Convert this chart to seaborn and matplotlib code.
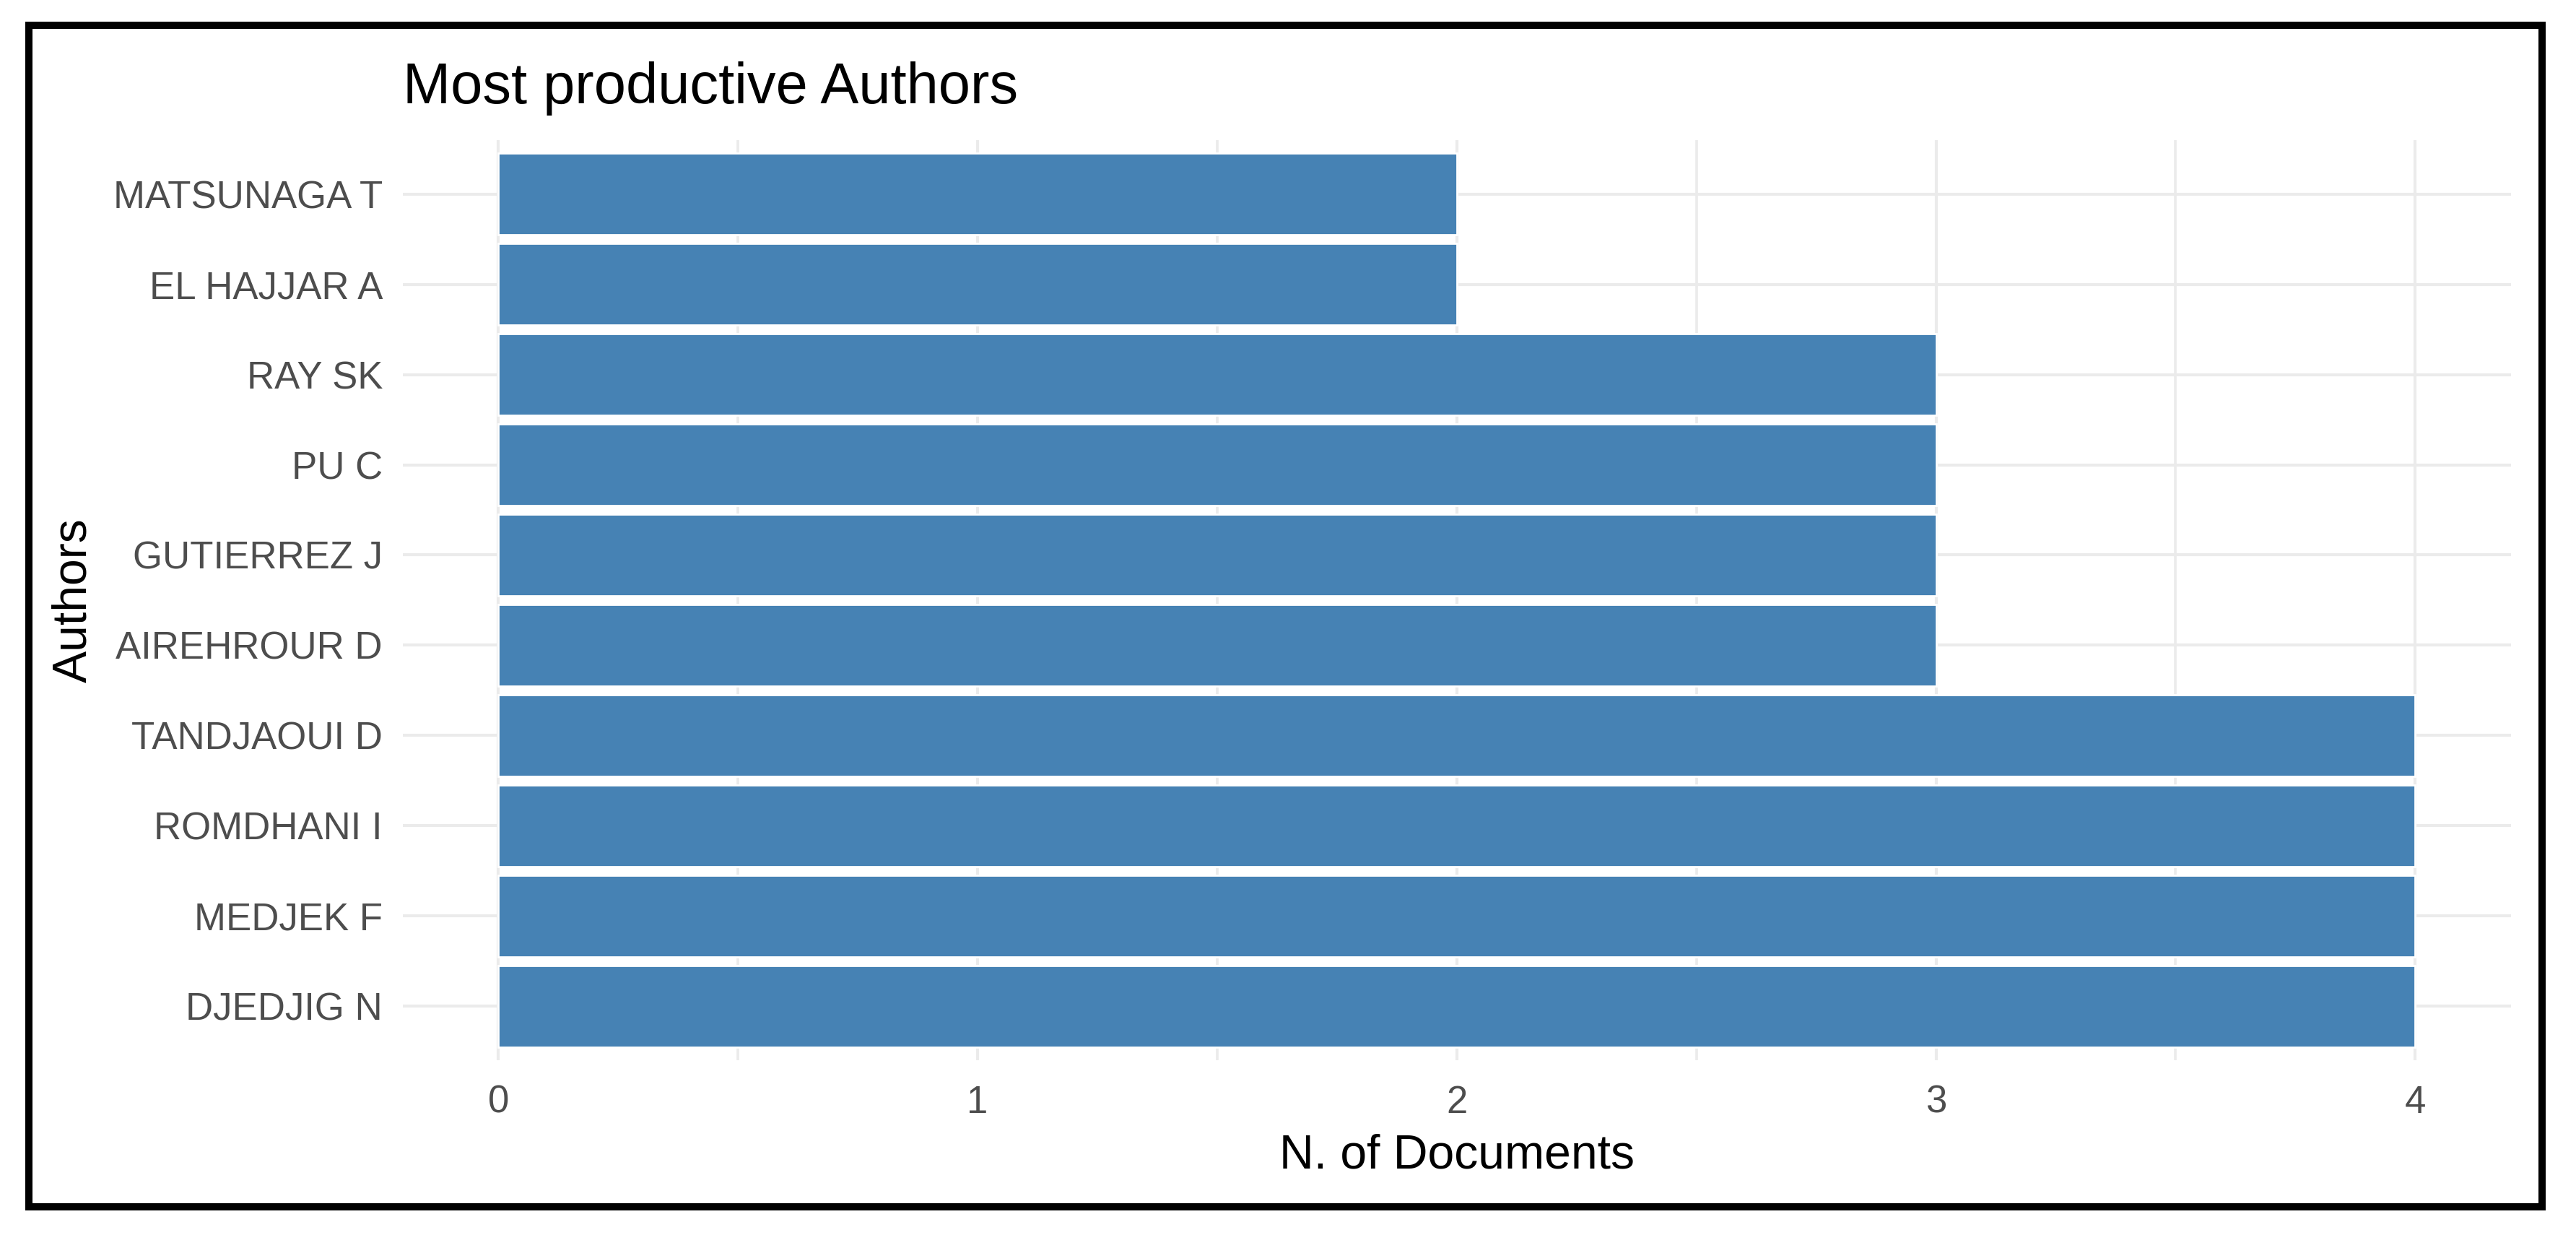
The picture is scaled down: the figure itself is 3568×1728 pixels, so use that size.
import matplotlib
matplotlib.use("Agg")
import matplotlib.pyplot as plt
import pandas as pd
import seaborn as sns
from matplotlib.patches import Rectangle

authors = ["MATSUNAGA T", "EL HAJJAR A", "RAY SK", "PU C", "GUTIERREZ J",
           "AIREHROUR D", "TANDJAOUI D", "ROMDHANI I", "MEDJEK F", "DJEDJIG N"]
n_docs = [2, 2, 3, 3, 3, 3, 4, 4, 4, 4]
x_ticks = [0, 1, 2, 3, 4]

df = pd.DataFrame({"Authors": authors, "N. of Documents": n_docs})

sns.set_style("white")
plt.rcParams["font.family"] = ["Liberation Sans", "DejaVu Sans"]

fig = plt.figure(figsize=(17.84, 8.64), dpi=200)
ax = fig.add_axes([0.1563, 0.1502, 0.8185, 0.7378])

sns.barplot(data=df, x="N. of Documents", y="Authors", order=authors,
            color="#4682B4", saturation=1, width=0.9, orient="h", ax=ax)

ax.set_xlim(-0.2, 4.2)
ax.set_ylim(len(authors) - 1 + 0.6, -0.6)
ax.set_xticks(x_ticks)
ax.set_xticks([0.5, 1.5, 2.5, 3.5], minor=True)
ax.set_axisbelow(True)
ax.grid(which="major", color="#EBEBEB", lw=1.5)
ax.grid(which="minor", axis="x", color="#EBEBEB", lw=1.3)
for s in ax.spines.values():
    s.set_visible(False)
ax.tick_params(axis="both", which="both", length=0, labelsize=19, labelcolor="#4D4D4D")
ax.tick_params(axis="x", pad=12)
ax.tick_params(axis="y", pad=10)

ax.set_xlabel("N. of Documents", fontsize=23.8, color="black")
ax.set_ylabel("Authors", fontsize=23.8, color="black")
ax.xaxis.set_label_coords(0.5, -0.1036)
ax.xaxis.label.set_va("center")
ax.yaxis.set_label_coords(-0.156, 0.5)
ax.yaxis.label.set_va("center")

fig.text(0.1563, 0.917, "Most productive Authors", fontsize=28.6,
         ha="left", va="baseline", color="black")

# frame round the whole picture
fig.patches.append(Rectangle((0.01116, 0.0329), 0.9869 - 0.01116, 0.9796 - 0.0329,
                             transform=fig.transFigure, fill=False,
                             edgecolor="black", lw=3.6))

fig.savefig("out.png", dpi=200, facecolor="white")
